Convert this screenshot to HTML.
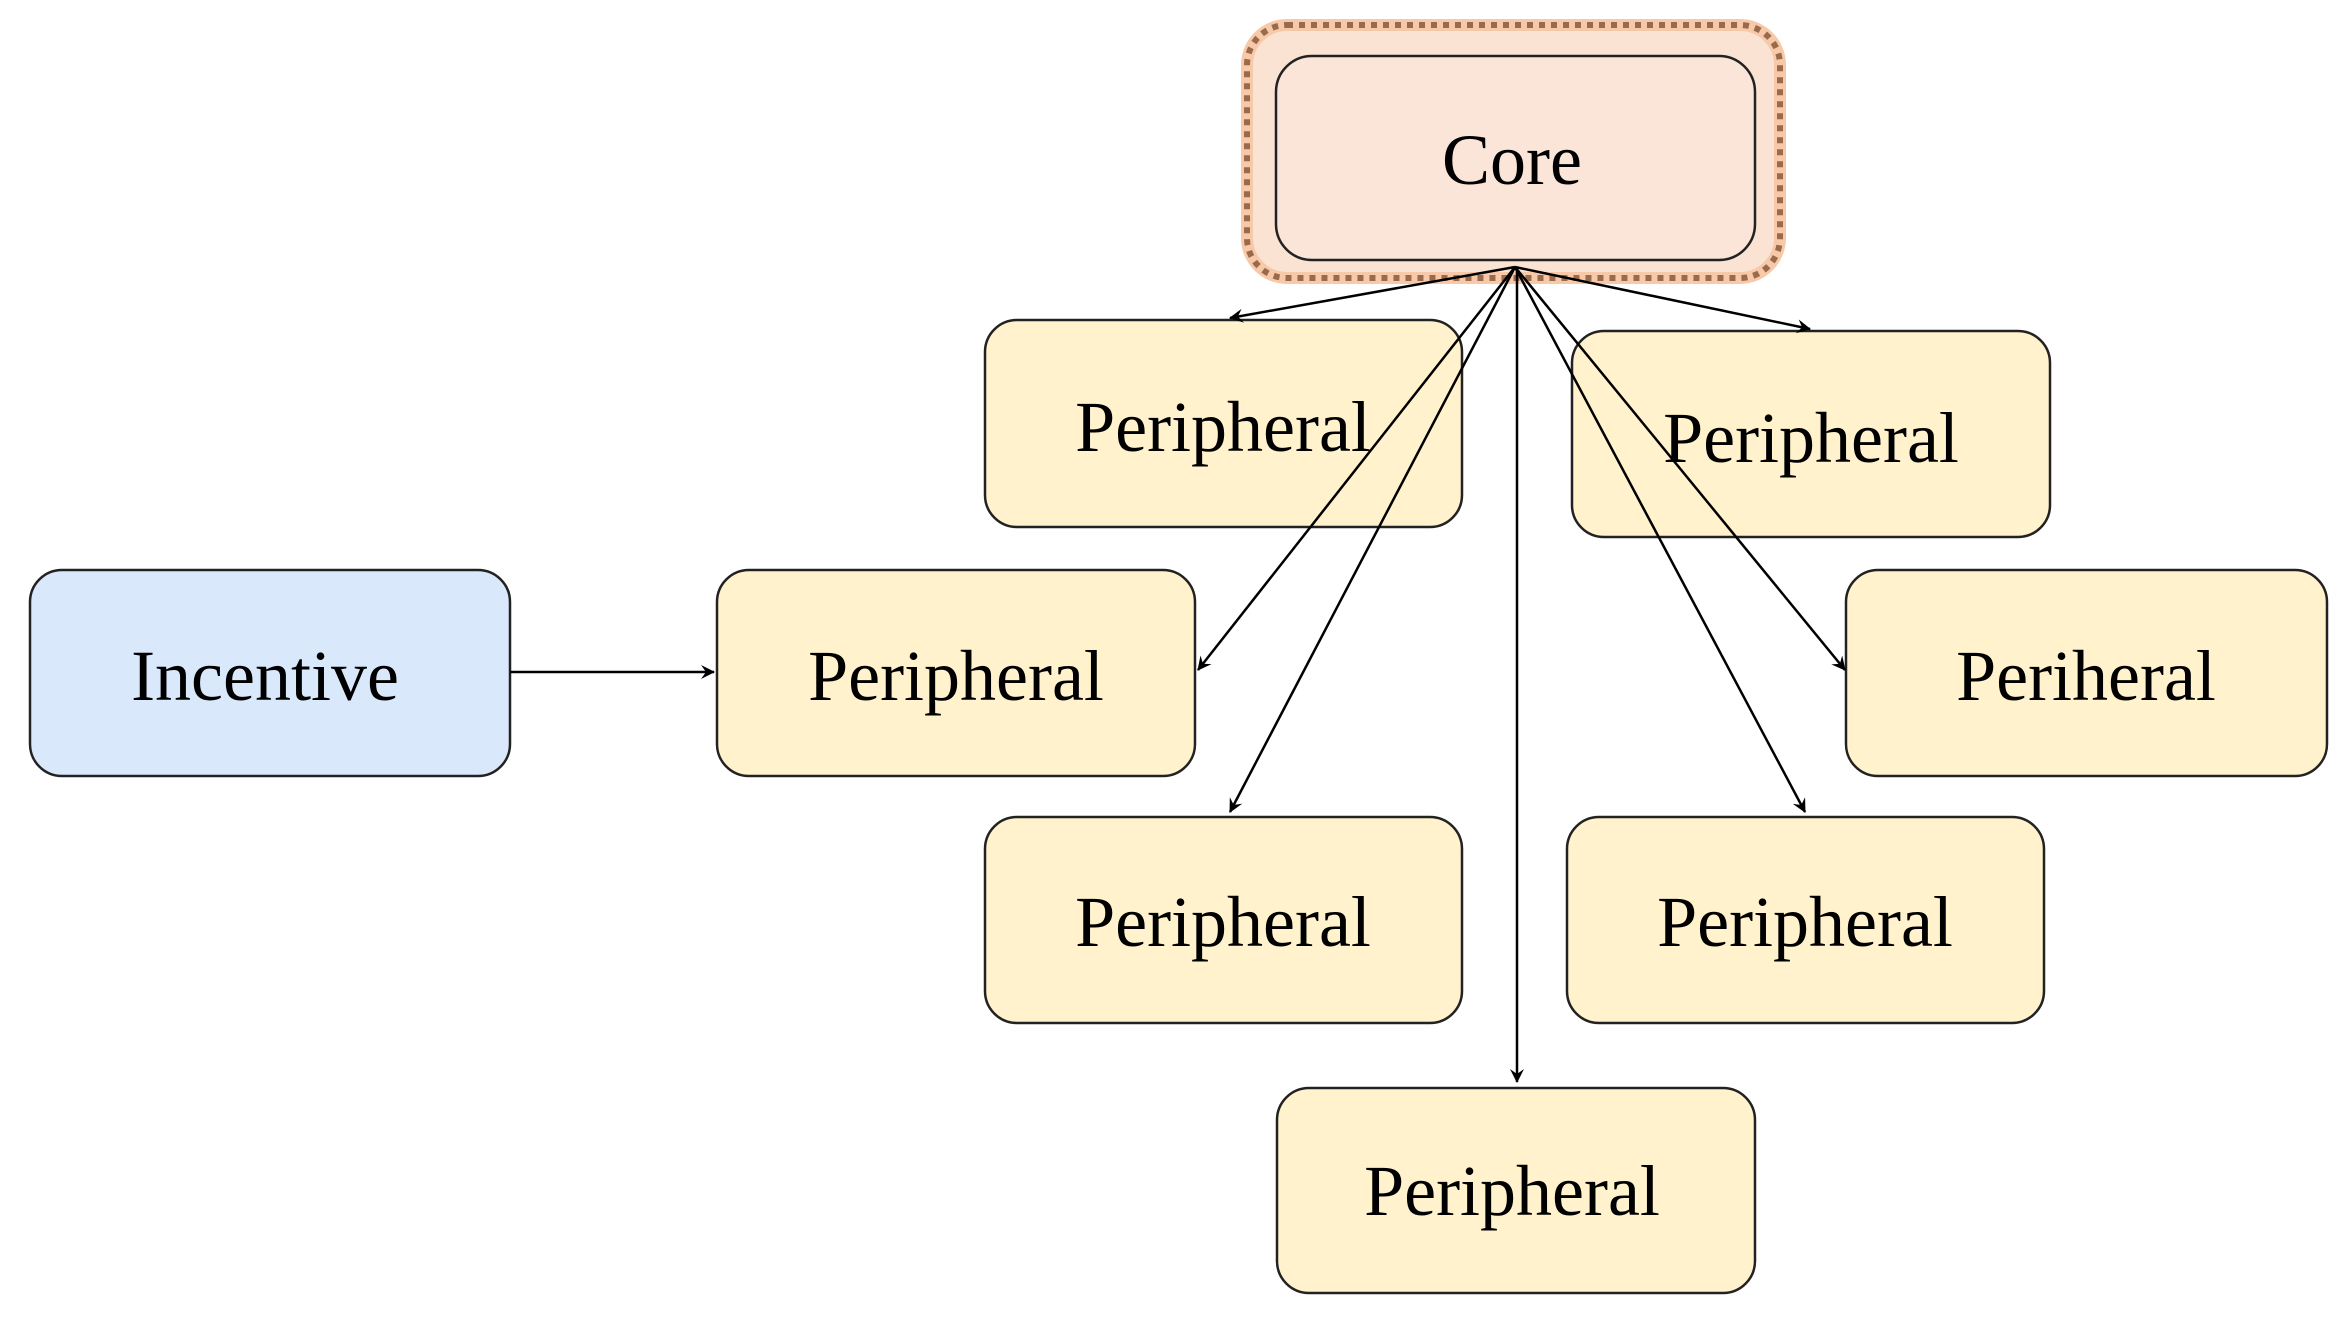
<!DOCTYPE html>
<html><head><style>
html,body{margin:0;padding:0;background:#fff;}
</style></head><body>
<svg width="2352" height="1328" viewBox="0 0 2352 1328" xmlns="http://www.w3.org/2000/svg">
<defs>
<marker id="a" markerWidth="14" markerHeight="14" refX="13" refY="7" orient="auto" markerUnits="userSpaceOnUse">
<path d="M0,0 L14,7 L0,14 L5,7 Z" fill="#000"/>
</marker>
</defs>
<g font-family="Liberation Serif, serif" font-size="72" text-anchor="middle">
<!-- core -->
<rect x="1247" y="25" width="533" height="253" rx="40" fill="#fbe3d4" stroke="#f7c9a8" stroke-width="12"/>
<rect x="1247" y="25" width="533" height="253" rx="40" fill="none" stroke="#9a6a4c" stroke-width="6" stroke-dasharray="6 6"/>
<rect x="1276" y="56" width="479" height="204" rx="36" fill="#fbe5d8" stroke="#222" stroke-width="2.5"/>
<text x="1512" y="184">Core</text>

<g fill="#fff2cc" stroke="#222" stroke-width="2.5">
<rect x="985" y="320" width="477" height="207" rx="32"/>
<rect x="1572" y="331" width="478" height="206" rx="32"/>
<rect x="717" y="570" width="478" height="206" rx="32"/>
<rect x="1846" y="570" width="481" height="206" rx="32"/>
<rect x="985" y="817" width="477" height="206" rx="32"/>
<rect x="1567" y="817" width="477" height="206" rx="32"/>
<rect x="1277" y="1088" width="478" height="205" rx="32"/>
<rect x="30" y="570" width="480" height="206" rx="32" fill="#dae8fc"/>
</g>

<g stroke="#000" stroke-width="2.5" fill="none" marker-end="url(#a)">
<line x1="1515" y1="267" x2="1230" y2="318"/>
<line x1="1515" y1="267" x2="1810" y2="329"/>
<line x1="1515" y1="267" x2="1198" y2="670"/>
<line x1="1515" y1="267" x2="1230" y2="812"/>
<line x1="1515" y1="267" x2="1845" y2="670"/>
<line x1="1515" y1="267" x2="1805" y2="812"/>
<line x1="1517" y1="267" x2="1517" y2="1082"/>
<line x1="510" y1="672" x2="714" y2="672"/>
</g>

<text x="1223" y="451">Peripheral</text>
<text x="1811" y="462">Peripheral</text>
<text x="956" y="700">Peripheral</text>
<text x="2086" y="700">Periheral</text>
<text x="1223" y="946">Peripheral</text>
<text x="1805" y="946">Peripheral</text>
<text x="1512" y="1215">Peripheral</text>
<text x="265" y="700">Incentive</text>
</g>
</svg>
</body></html>
